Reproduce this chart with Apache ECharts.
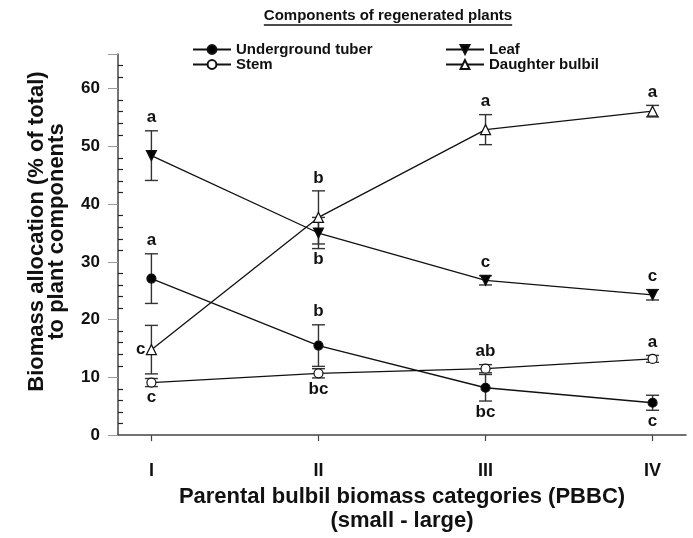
<!DOCTYPE html>
<html>
<head>
<meta charset="utf-8">
<script src="https://cdn.jsdelivr.net/npm/echarts@6/dist/echarts.min.js"></script>
<style>html,body{margin:0;padding:0;background:#fff;}#c{width:693px;height:538px;}</style>
</head>
<body>
<div id="c"></div>
<script>
// ---- data ----
const categories = ['I', 'II', 'III', 'IV'];
const xPositions = [1, 2, 3, 4];
const seriesNames = ['Underground tuber', 'Stem', 'Leaf', 'Daughter bulbil'];
const tuber = [27.1, 15.5, 8.2, 5.6];
const tuberErr = [4.3, 3.6, 2.3, 1.3];
const stem = [9.1, 10.7, 11.5, 13.2];
const stemErr = [0.7, 0.8, 0.7, 0.6];
const leaf = [48.4, 35.0, 26.8, 24.3];
const leafErr = [4.3, 2.7, 0.8, 0.9];
const bulbil = [14.8, 37.7, 52.9, 56.1];
const bulbilErr = [4.2, 4.6, 2.6, 1.0];
const tuberLetters = ['a', 'b', 'bc', 'c'];
const stemLetters = ['c', 'bc', 'ab', 'a'];
const leafLetters = ['a', 'b', 'c', 'c'];
const bulbilLetters = ['c', 'b', 'a', 'a'];
const yTicks = [0, 10, 20, 30, 40, 50, 60];

// ---- layout of letters (style only) ----
const letterPlace = {
  'Underground tuber': ['top', 'top', 'bottom', 'bottom'],
  'Stem': ['bottom', 'bottom', 'top', 'top'],
  'Leaf': ['top', 'bottom', 'top', 'top'],
  'Daughter bulbil': ['left', 'top', 'top', 'top']
};

const FONT = 'Arial, "Liberation Sans", sans-serif';
const chart = echarts.init(document.getElementById('c'), null, {renderer: 'canvas'});

function lineData(vals) { return vals.map((v, i) => [xPositions[i], v]); }
function errData(vals, errs) { return vals.map((v, i) => [xPositions[i], v, v - errs[i], v + errs[i]]); }

function errSeries(name, vals, errs, letters) {
  const places = letterPlace[name];
  return {
    type: 'custom',
    name: name + ' err',
    z: 1,
    silent: true,
    data: errData(vals, errs),
    renderItem: function (params, api) {
      const x = api.value(0);
      const m = api.coord([x, api.value(1)]);
      const lo = api.coord([x, api.value(2)]);
      const hi = api.coord([x, api.value(3)]);
      const cw = 6.5;
      const st = {stroke: '#333', lineWidth: 1.4};
      const place = places[params.dataIndex];
      const letter = letters[params.dataIndex];
      let tx = m[0], ty, align = 'center';
      if (place === 'top') ty = hi[1] - 13;
      else if (place === 'bottom') ty = lo[1] + 11;
      else { tx = m[0] - 6; ty = m[1]; align = 'right'; }
      return {
        type: 'group',
        children: [
          {type: 'line', shape: {x1: m[0], y1: lo[1], x2: m[0], y2: hi[1]}, style: st},
          {type: 'line', shape: {x1: m[0] - cw, y1: lo[1], x2: m[0] + cw, y2: lo[1]}, style: st},
          {type: 'line', shape: {x1: m[0] - cw, y1: hi[1], x2: m[0] + cw, y2: hi[1]}, style: st},
          {type: 'text', x: tx, y: ty, z2: 10, style: {text: letter, font: 'bold 17px ' + FONT, fill: '#111', align: align, verticalAlign: 'middle'}}
        ]
      };
    }
  };
}

function lineSeries(name, vals, symbol, fill, rotate) {
  return {
    type: 'line',
    name: name,
    z: 3,
    data: lineData(vals),
    symbol: symbol,
    symbolSize: symbol === 'circle' ? 9 : 10,
    symbolRotate: rotate || 0,
    showAllSymbol: true,
    lineStyle: {color: '#111', width: 1.3},
    itemStyle: {color: fill, borderColor: '#111', borderWidth: 1.2},
    emphasis: {disabled: true}
  };
}

const legendText = {fontWeight: 'bold', fontSize: 15, color: '#111', fontFamily: FONT, lineHeight: 15};
const option = {
  animation: false,
  backgroundColor: '#fff',
  textStyle: {fontFamily: FONT},
  grid: {left: 118, right: 7, top: 54, bottom: 96, containLabel: false},
  legend: [
    {
      data: ['Underground tuber', 'Stem'],
      orient: 'vertical', left: 187, top: 37, itemWidth: 38, itemHeight: 11, itemGap: 0,
      textStyle: legendText, selectedMode: false
    },
    {
      data: ['Leaf', 'Daughter bulbil'],
      orient: 'vertical', left: 440, top: 37, itemWidth: 38, itemHeight: 11, itemGap: 0,
      textStyle: legendText, selectedMode: false
    }
  ],
  xAxis: {
    type: 'value', min: 0.8, max: 4.2,
    splitLine: {show: false},
    axisLine: {lineStyle: {color: '#444', width: 1.5}},
    axisTick: {customValues: xPositions, length: 6, lineStyle: {color: '#444', width: 1.2}},
    axisLabel: {
      customValues: xPositions,
      formatter: v => categories[Math.round(v) - 1],
      fontWeight: 'bold', fontSize: 18, color: '#111', margin: 27, fontFamily: FONT
    },
    name: 'Parental bulbil biomass categories (PBBC)\n(small - large)',
    nameLocation: 'middle', nameGap: 46,
    nameTextStyle: {fontWeight: 'bold', fontSize: 22, color: '#111', lineHeight: 24, fontFamily: FONT}
  },
  yAxis: [
    {
      type: 'value', min: 0, max: 66, interval: 10,
      splitLine: {show: false},
      axisLine: {show: true, lineStyle: {color: '#444', width: 1.5}},
      axisTick: {show: true, length: 10, lineStyle: {color: '#999', width: 1}},
      axisLabel: {
        customValues: yTicks,
        fontWeight: 'bold', fontSize: 17, color: '#111', margin: 18, fontFamily: FONT
      },
      name: 'Biomass allocation (% of total)\nto plant components',
      nameLocation: 'middle', nameGap: 51, nameRotate: 90,
      nameTextStyle: {fontWeight: 'bold', fontSize: 22, color: '#111', lineHeight: 20, fontFamily: FONT, padding: [0, 0, 0, 26]}
    },
    {
      type: 'value', min: 0, max: 66, interval: 10, position: 'left',
      splitLine: {show: false},
      axisLine: {show: false},
      axisLabel: {show: false},
      axisTick: {show: false, inside: true},
      minorTick: {show: true, splitNumber: 5, length: 5, lineStyle: {color: '#222', width: 1.2}}
    }
  ],
  graphic: [],
  series: [
    errSeries('Underground tuber', tuber, tuberErr, tuberLetters),
    errSeries('Stem', stem, stemErr, stemLetters),
    errSeries('Leaf', leaf, leafErr, leafLetters),
    errSeries('Daughter bulbil', bulbil, bulbilErr, bulbilLetters),
    lineSeries('Underground tuber', tuber, 'circle', '#000'),
    lineSeries('Stem', stem, 'circle', '#fff'),
    lineSeries('Leaf', leaf, 'triangle', '#000', 180),
    lineSeries('Daughter bulbil', bulbil, 'triangle', '#fff')
  ]
};

// title with underline
const titleText = 'Components of regenerated plants';
const titleFont = 'bold 15px ' + FONT;
const cv = document.createElement('canvas').getContext('2d');
cv.font = titleFont;
const tw = cv.measureText(titleText).width;
const tcx = 388, tcy = 16;
option.graphic = [
  {type: 'text', x: tcx, y: tcy, style: {text: titleText, font: titleFont, fill: '#111', align: 'center', verticalAlign: 'middle'}},
  {type: 'line', shape: {x1: tcx - tw / 2, y1: tcy + 9, x2: tcx + tw / 2, y2: tcy + 9}, style: {stroke: '#111', lineWidth: 1.3}}
];

chart.setOption(option);
</script>
</body>
</html>
